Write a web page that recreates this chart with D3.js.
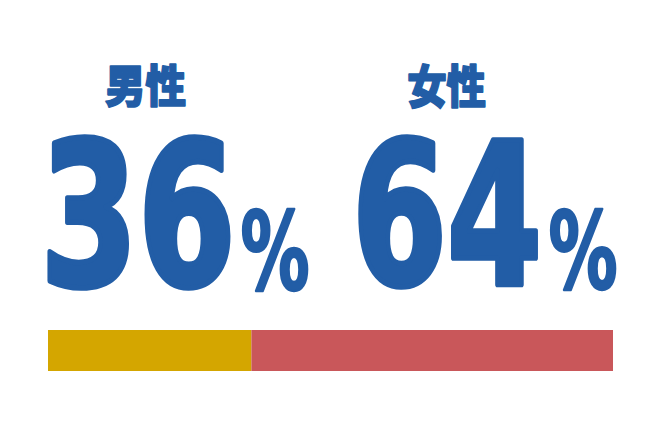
<!DOCTYPE html>
<html>
<head>
<meta charset="utf-8">
<script src="https://cdn.jsdelivr.net/npm/d3@7"></script>
<style>
  body { margin: 0; background: #fff; }
</style>
</head>
<body>
<div id="chart"></div>
<script>
// data
const labels = ["男性", "女性"];
const shares = [36, 64];
const barColors = ["#d4a600", "#c9575a"];

const width = 660, height = 430;
const blue = "#225da6";

// column layout (ink boxes)
const labelBox = [[105, 63, 186, 108], [408, 63, 486, 109]];
const digitBox = [[47, 132, 231, 289], [357, 133, 539, 288]];
const pctBox = [[241, 207, 309, 291], [549, 207, 617, 290]];

const svg = d3.select("#chart").append("svg")
  .attr("width", width)
  .attr("height", height);

// measure ink of a string so it can be fitted into a box
const ctx = document.createElement("canvas").getContext("2d");
function fitText(g, str, family, weight, box, strokeW) {
  const size = 100;
  ctx.font = `${weight} ${size}px ${family}`;
  const m = ctx.measureText(str);
  const l = -m.actualBoundingBoxLeft, r = m.actualBoundingBoxRight;
  const a = m.actualBoundingBoxAscent, d = m.actualBoundingBoxDescent;
  const h = strokeW / 2;
  const x0 = box[0] + h, y0 = box[1] + h, x1 = box[2] - h, y1 = box[3] - h;
  const sx = (x1 - x0) / (r - l), sy = (y1 - y0) / (a + d);
  g.append("text")
    .attr("transform", `translate(${x0 - l * sx},${y1 - d * sy}) scale(${sx},${sy})`)
    .attr("font-family", family)
    .attr("font-weight", weight)
    .attr("font-size", size)
    .attr("fill", blue)
    .attr("stroke", blue)
    .attr("stroke-width", strokeW)
    .attr("stroke-linejoin", "round")
    .attr("vector-effect", "non-scaling-stroke")
    .style("vector-effect", "non-scaling-stroke")
    .text(str);
}

const numFont = "'Liberation Sans Narrow', 'DejaVu Sans Condensed', 'DejaVu Sans', sans-serif";
const cjkFont = "'Noto Sans CJK JP', 'Noto Sans CJK SC', sans-serif";

const cols = svg.append("g");
shares.forEach((v, i) => {
  fitText(cols, labels[i], cjkFont, 900, labelBox[i], 1.5);
  fitText(cols, String(v), numFont, "bold", digitBox[i], 5);
  fitText(cols, "%", numFont, "bold", pctBox[i], 2);
});

// stacked bar
const x = d3.scaleLinear()
  .domain([0, d3.sum(shares)])
  .range([48, 613]);

const stacked = d3.cumsum(shares);
svg.append("g")
  .selectAll("rect")
  .data(shares)
  .join("rect")
  .attr("x", (d, i) => x(stacked[i] - d))
  .attr("y", 330)
  .attr("width", (d, i) => x(stacked[i]) - x(stacked[i] - d))
  .attr("height", 41)
  .attr("fill", (d, i) => barColors[i]);
</script>
</body>
</html>
